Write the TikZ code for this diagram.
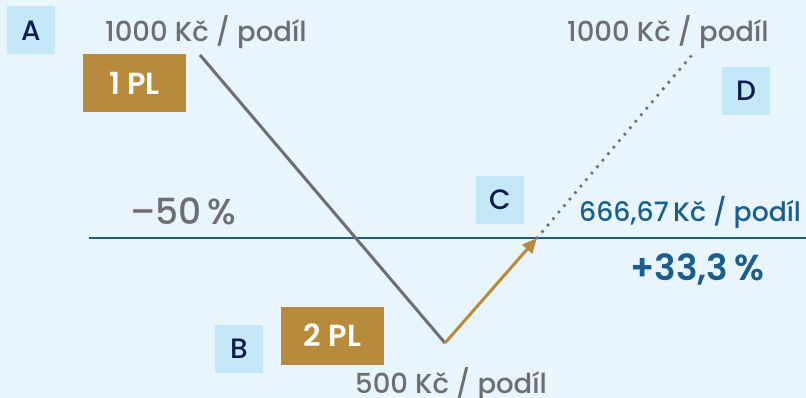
\documentclass[tikz,border=0pt]{standalone}
\usepackage{fontspec}
\setmainfont{Poppins}[UprightFont=* Medium, BoldFont=* SemiBold]
\usetikzlibrary{arrows.meta}
\definecolor{bg}{HTML}{E8F5FC}
\definecolor{lbl}{HTML}{C5E8F9}
\definecolor{navy}{HTML}{0B1B4D}
\definecolor{gold}{HTML}{B88A3C}
\definecolor{greyc}{HTML}{6D6E71}
\definecolor{blu}{HTML}{1B5E8C}
\begin{document}
\begin{tikzpicture}[x=1pt,y=-1pt,
  letterbox/.style={fill=lbl, minimum width=48pt, minimum height=48pt, inner sep=0pt, text=navy, font=\fontsize{28}{28}\selectfont},
  plbox/.style={fill=gold, minimum width=103pt, minimum height=58pt, inner sep=0pt, text=white, font=\bfseries\fontsize{30.5}{30.5}\selectfont},
  price/.style={text=greyc, inner sep=0pt, anchor=base west, font=\fontsize{27.5}{27.5}\selectfont},
  greyline/.style={draw=greyc, line width=3pt},
  goldline/.style={draw=gold, line width=3pt, -{Triangle[length=15pt,width=13pt]}},
  dotline/.style={draw=greyc, line width=3.6pt, line cap=round, dash pattern=on 0pt off 8.5pt},
  axisline/.style={draw=blu, line width=2.2pt}
]
\fill[bg] (0,0) rectangle (806,398);
\useasboundingbox (0,0) rectangle (806,398);

\coordinate (p1) at (200,55);
\coordinate (v) at (445,343);
\coordinate (c) at (537,238);
\coordinate (d) at (691,56);
\coordinate (hl) at (89,238);
\coordinate (hr) at (806,238);

\draw[axisline] (hl) -- (hr);
\draw[greyline] (p1) -- (v);
\draw[dotline] (c) -- (d);
\draw[goldline] (v) -- (c);

\node[letterbox] (A) at (31,30.5) {A};
\node[letterbox] (B) at (239,348.5) {B};
\node[letterbox] (C) at (500,200) {C};
\node[letterbox] (D) at (746,91) {D};

\node[plbox] (pl1) at (134.5,83.5) {1 PL};
\node[plbox] (pl2) at (332.5,335.5) {2 PL};

\node[price] (t1) at (105,42) {1000 Kč / podíl};
\node[price] (t2) at (567,42) {1000 Kč / podíl};
\node[price] (t3) at (355,393) {500 Kč / podíl};
\node[price, text=blu, font=\fontsize{26.7}{26.7}\selectfont] (t4) at (579,222) {666,67\,Kč / podíl};
\node[price, font=\fontsize{36}{36}\selectfont] (t5) at (130,225) {–50\,\%};
\node[price, text=blu, font=\bfseries\fontsize{36}{36}\selectfont] (t6) at (630,280) {+33,3\,\%};
\end{tikzpicture}
\end{document}
